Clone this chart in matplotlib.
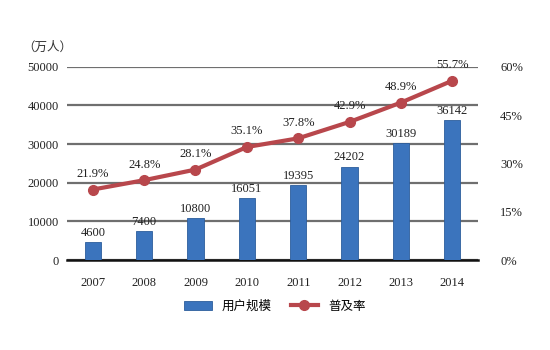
import matplotlib
matplotlib.use('Agg')
import matplotlib.pyplot as plt
import matplotlib.ticker as mticker

years = ['2007', '2008', '2009', '2010', '2011', '2012', '2013', '2014']
users = [4600, 7400, 10800, 16051, 19395, 24202, 30189, 36142]
rate = [21.9, 24.8, 28.1, 35.1, 37.8, 42.9, 48.9, 55.7]

bar_col = '#3b74bd'
line_col = '#b8474c'
serif = ['Liberation Serif', 'DejaVu Serif']
cjk = ['Noto Sans CJK SC', 'DejaVu Sans']

fig = plt.figure(figsize=(5.5, 3.5), dpi=100)
ax = fig.add_axes([0.122, 0.257, 0.747, 0.552])
ax2 = ax.twinx()

x = list(range(len(years)))
ax.bar(x, users, width=0.32, color=bar_col, edgecolor='#2c5d9c', lw=0.6,
       zorder=3, label='用户规模')
ax.set_ylim(0, 50000)
ax.set_xlim(-0.5, 7.5)
ax.set_yticks(range(0, 50001, 10000))
ax.yaxis.grid(True, color='#6f6f6f', lw=1.6, zorder=0)
ax.set_axisbelow(True)
for s in ['top', 'right', 'left']:
    ax.spines[s].set_visible(False)
ax.spines['bottom'].set_color('#111111')
ax.spines['bottom'].set_linewidth(1.8)
ax.set_xticks(x)
ax.set_xticklabels(years)
ax.tick_params(axis='y', length=0, labelsize=9, pad=6, labelcolor='#222222')
ax.tick_params(axis='x', length=0, labelsize=9, pad=12, labelcolor='#222222')
for lab in ax.get_xticklabels() + ax.get_yticklabels():
    lab.set_family(serif)
for xi, v in zip(x, users):
    ax.text(xi, v + 900, str(v), ha='center', va='bottom', fontsize=9,
            family=serif, color='#222222')

ax2.plot(x, rate, color=line_col, lw=3, marker='o', ms=7, zorder=4, label='普及率')
ax2.set_ylim(0, 60)
ax2.set_yticks(range(0, 61, 15))
ax2.yaxis.set_major_formatter(mticker.FuncFormatter(lambda v, _: f'{v:.0f}%'))
for s in ['top', 'right', 'left', 'bottom']:
    ax2.spines[s].set_visible(False)
ax2.tick_params(length=0, labelsize=9, pad=16, labelcolor='#222222')
for lab in ax2.get_yticklabels():
    lab.set_family(serif)
for xi, v in zip(x, rate):
    ax2.text(xi, v + 3, f'{v}%', ha='center', va='bottom', fontsize=9,
             family=serif, color='#222222')

fig.text(0.04, 0.855, '（万人）', fontsize=9, family=cjk, color='#333333')

h1, l1 = ax.get_legend_handles_labels()
h2, l2 = ax2.get_legend_handles_labels()
fig.legend(h1 + h2, l1 + l2, loc='center', bbox_to_anchor=(0.5, 0.125), ncol=2,
           frameon=False, prop={'family': cjk, 'size': 9}, handlelength=2.2,
           columnspacing=1.5)

fig.savefig('out.png', dpi=100)
